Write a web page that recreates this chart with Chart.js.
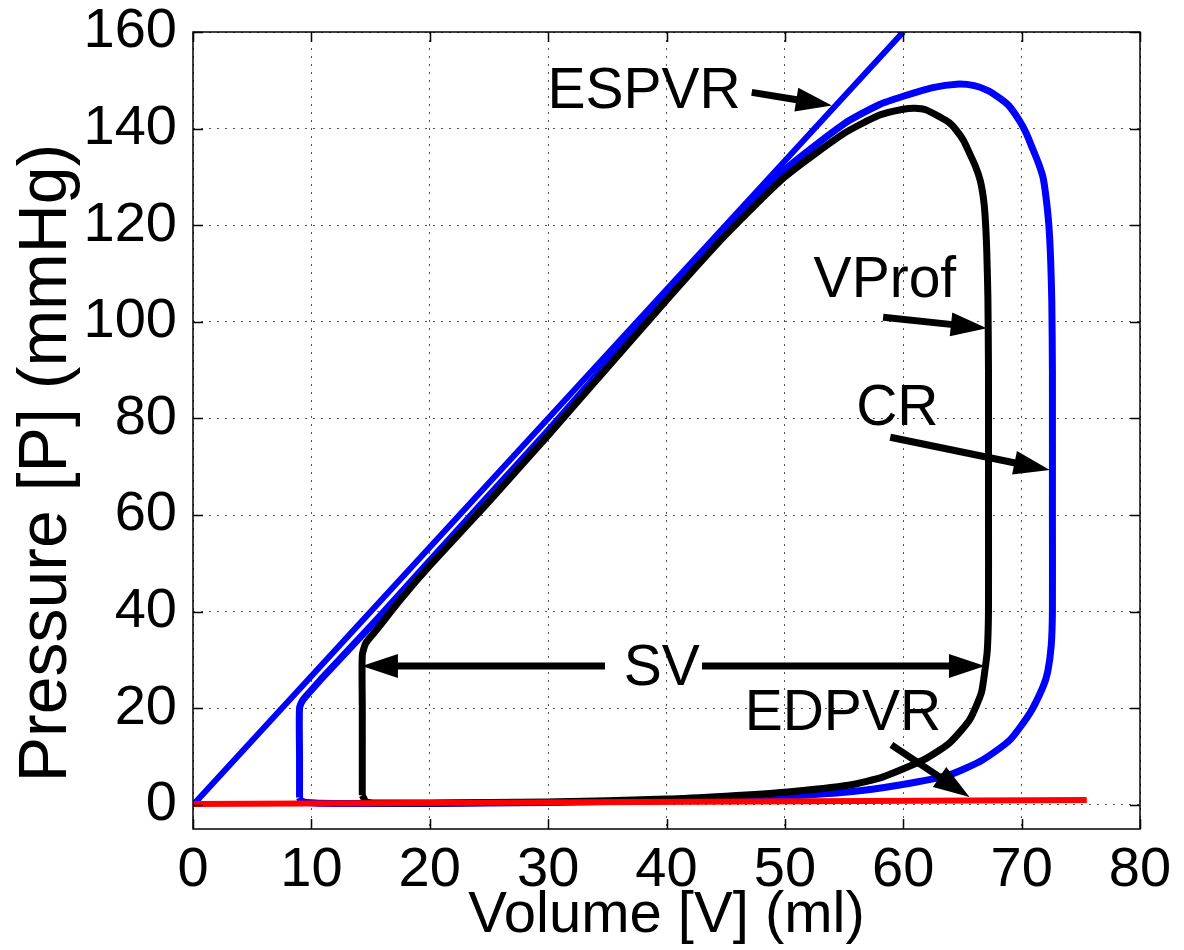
<!DOCTYPE html>
<html><head><meta charset="utf-8">
<script src="https://cdn.jsdelivr.net/npm/chart.js@4/dist/chart.umd.min.js"></script>
<style>html,body{margin:0;padding:0;background:#fff;}</style>
</head><body>
<canvas id="c" width="1184" height="950"></canvas>
<script>
// ---- data ----
const xTicks = [0, 10, 20, 30, 40, 50, 60, 70, 80];
const yTicks = [0, 20, 40, 60, 80, 100, 120, 140, 160];

const espvrVolume = [0, 60];
const espvrPressure = [0, 160];

const edpvrVolume = [0, 75.5];
const edpvrPressure = [0.2, 1.0];

const crVolume = [9.0, 9.0, 9.0, 9.3, 9.8, 11, 15.5, 20, 25, 30, 35, 40, 45, 50, 55, 58, 60, 62.5, 64.5, 66.0, 67.2, 68.2, 68.9, 69.8, 70.4, 70.9, 71.4, 71.8, 72.05, 72.3, 72.45, 72.55, 72.6, 72.6, 72.6, 72.5, 72.2, 71.8, 70.7, 69, 66.7, 63.9, 59.7, 55.5, 50, 40, 30, 20, 12, 9.6, 9.1, 9.0];
const crPressure = [1.5, 10, 20, 21.8, 23.2, 26.5, 38.3, 50.5, 64, 77.5, 91.5, 105.5, 119, 131.5, 141, 145, 146.7, 148.5, 149.2, 148.9, 147.8, 146.2, 144.8, 141.7, 139.0, 136, 133, 130, 126, 120, 113, 104, 90, 60, 40, 33, 27.5, 24.4, 19, 13.4, 9.3, 6.2, 4.1, 2.7, 1.8, 0.9, 0.5, 0.3, 0.3, 0.5, 0.9, 1.5];

const vprofVolume = [14.3, 14.3, 14.3, 14.6, 15.5, 17.5, 20, 25, 30, 35, 40, 45, 50, 55, 58, 60, 61, 61.9, 63.1, 63.9, 64.5, 65.1, 65.6, 66.1, 66.5, 66.75, 66.9, 67.05, 67.15, 67.2, 67.2, 67.2, 67.1, 66.9, 66.6, 65.6, 63.9, 61.7, 58.3, 55.5, 50, 45, 40, 30, 20, 15.5, 14.6, 14.3];
const vprofPressure = [2, 20, 31, 33.5, 36.2, 42.4, 49.5, 62.8, 76.5, 90.5, 104.5, 118, 130, 139, 142.8, 144, 144.2, 143.9, 142.4, 141.2, 139.6, 137.5, 134.9, 132.2, 129.3, 126, 122.5, 115, 105, 90, 60, 40, 32, 27.9, 23.2, 17.6, 12.8, 9.3, 5.8, 4.1, 2.6, 1.8, 1.2, 0.6, 0.4, 0.4, 0.7, 2];

const labelTexts = ['ESPVR', 'VProf', 'CR', 'SV', 'EDPVR'];
const labelVolume = [38.1, 58.45, 59.5, 39.6, 54.9];
const labelPressure = [144.2, 105.1, 78.6, 24.8, 15.5];

const arrowTailVolume = [47.2, 58.3, 58.9, 59.0, 34.8, 43.0];
const arrowTailPressure = [147.5, 100.95, 76.1, 12.4, 28.75, 28.75];
const arrowHeadVolume = [53.97, 67.06, 72.38, 65.6, 14.27, 66.9];
const arrowHeadPressure = [144.8, 98.68, 69.3, 1.65, 28.75, 28.75];

const xTitle = 'Volume [V] (ml)';
const yTitle = 'Pressure [P] (mmHg)';

// ---- helpers ----
const zip = (xs, ys) => xs.map((x, i) => ({x: x, y: ys[i]}));
const FONT = '"Liberation Sans", Arial, Helvetica, sans-serif';

const frameAndAnnotations = {
  id: 'frameAndAnnotations',
  afterDatasetsDraw(chart) {
    const ctx = chart.ctx;
    const xs = chart.scales.x, ys = chart.scales.y;
    const a = chart.chartArea;
    ctx.save();
    // frame
    ctx.strokeStyle = '#000';
    ctx.lineWidth = 1.5;
    ctx.strokeRect(a.left, a.top, a.right - a.left, a.bottom - a.top);
    // inner ticks on all sides
    const tl = 10;
    ctx.beginPath();
    xTicks.forEach(v => {
      const px = Math.round(xs.getPixelForValue(v)) + 0.5;
      ctx.moveTo(px, a.bottom); ctx.lineTo(px, a.bottom - tl);
      ctx.moveTo(px, a.top); ctx.lineTo(px, a.top + tl);
    });
    yTicks.forEach(v => {
      const py = Math.round(ys.getPixelForValue(v)) + 0.5;
      ctx.moveTo(a.left, py); ctx.lineTo(a.left + tl, py);
      ctx.moveTo(a.right, py); ctx.lineTo(a.right - tl, py);
    });
    ctx.stroke();

    // arrows
    ctx.fillStyle = '#000';
    ctx.strokeStyle = '#000';
    ctx.lineWidth = 7;
    ctx.lineCap = 'butt';
    for (let i = 0; i < arrowTailVolume.length; i++) {
      const x0 = xs.getPixelForValue(arrowTailVolume[i]);
      const y0 = ys.getPixelForValue(arrowTailPressure[i]);
      const x1 = xs.getPixelForValue(arrowHeadVolume[i]);
      const y1 = ys.getPixelForValue(arrowHeadPressure[i]);
      const ang = Math.atan2(y1 - y0, x1 - x0);
      const hl = 36, hw = 12;
      const bx = x1 - hl * Math.cos(ang), by = y1 - hl * Math.sin(ang);
      ctx.beginPath();
      ctx.moveTo(x0, y0); ctx.lineTo(bx + 2 * Math.cos(ang), by + 2 * Math.sin(ang));
      ctx.stroke();
      ctx.beginPath();
      ctx.moveTo(x1, y1);
      ctx.lineTo(bx - hw * Math.sin(ang), by + hw * Math.cos(ang));
      ctx.lineTo(bx + hw * Math.sin(ang), by - hw * Math.cos(ang));
      ctx.closePath();
      ctx.fill();
    }

    // text labels
    ctx.font = '57px ' + FONT;
    ctx.textAlign = 'center';
    ctx.textBaseline = 'alphabetic';
    labelTexts.forEach((t, i) => {
      ctx.fillText(t, xs.getPixelForValue(labelVolume[i]), ys.getPixelForValue(labelPressure[i]));
    });

    // axis titles
    ctx.font = '58px ' + FONT;
    ctx.fillText(xTitle, (a.left + a.right) / 2, 932);
    ctx.save();
    ctx.translate(66, 463);
    ctx.rotate(-Math.PI / 2);
    ctx.font = '68px ' + FONT;
    ctx.fillText(yTitle, 0, 0);
    ctx.restore();
    ctx.restore();
  }
};

new Chart(document.getElementById('c'), {
  type: 'scatter',
  data: {
    datasets: [
      { label: 'EDPVR', data: zip(edpvrVolume, edpvrPressure), showLine: true, borderColor: '#ff0000', borderWidth: 6, pointRadius: 0, order: 0 },
      { label: 'ESPVR', data: zip(espvrVolume, espvrPressure), showLine: true, borderColor: '#0000ff', borderWidth: 6, pointRadius: 0, order: 1 },
      { label: 'VProf', data: zip(vprofVolume, vprofPressure), showLine: true, borderColor: '#000000', borderWidth: 7, pointRadius: 0, tension: 0.2, order: 2 },
      { label: 'CR', data: zip(crVolume, crPressure), showLine: true, borderColor: '#0000ff', borderWidth: 7, pointRadius: 0, tension: 0.2, order: 3 }
    ]
  },
  options: {
    responsive: false,
    animation: false,
    devicePixelRatio: 1,
    layout: { padding: { top: 32, right: 44, left: 0, bottom: 0 } },
    plugins: { legend: { display: false }, tooltip: { enabled: false } },
    scales: {
      x: {
        type: 'linear', min: 0, max: 80,
        afterBuildTicks: s => { s.ticks = xTicks.map(v => ({value: v})); },
        afterFit: s => { s.height = 121; },
        grid: { color: '#555', lineWidth: 1, drawTicks: false },
        border: { display: false, dash: [2, 6] },
        ticks: { color: '#000', padding: 8, maxRotation: 0, font: { size: 56, family: FONT } }
      },
      y: {
        type: 'linear', min: -5, max: 160,
        afterBuildTicks: s => { s.ticks = yTicks.map(v => ({value: v})); },
        afterFit: s => { s.width = 193; },
        grid: { color: '#555', lineWidth: 1, drawTicks: false },
        border: { display: false, dash: [2, 6] },
        ticks: { color: '#000', padding: 16, font: { size: 56, family: FONT, lineHeight: 0.5 } }
      }
    }
  },
  plugins: [frameAndAnnotations]
});
</script>
</body></html>
